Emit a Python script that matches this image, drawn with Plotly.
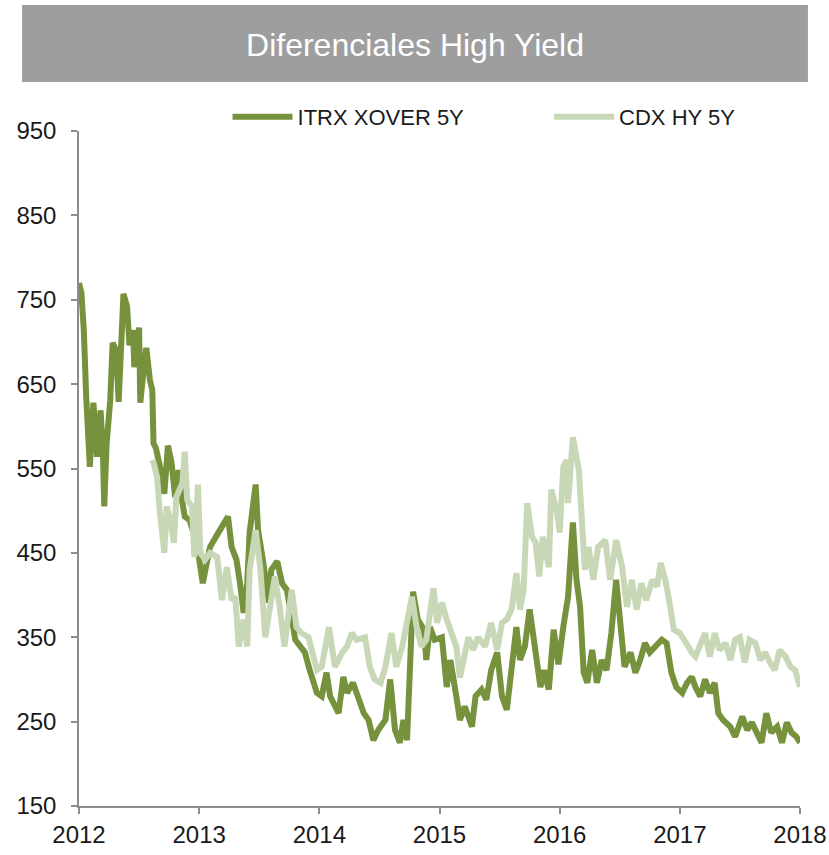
import plotly.graph_objects as go

# Axis labels
year_ticks = [2012, 2013, 2014, 2015, 2016, 2017, 2018]
year_labels = ["2012", "2013", "2014", "2015", "2016", "2017", "2018"]
spread_ticks = [150, 250, 350, 450, 550, 650, 750, 850, 950]

# iTraxx Crossover 5Y spread (bp), time in decimal years
xover_t = [
    2012.00, 2012.02, 2012.04, 2012.05, 2012.06, 2012.09, 2012.12, 2012.15, 2012.18, 2012.20,
    2012.21, 2012.23, 2012.26, 2012.28, 2012.31, 2012.33, 2012.35, 2012.37, 2012.40, 2012.42,
    2012.45, 2012.46, 2012.50, 2012.51, 2012.54, 2012.56, 2012.59, 2012.61, 2012.62, 2012.64,
    2012.67, 2012.71, 2012.74, 2012.77, 2012.80, 2012.83, 2012.86, 2012.88, 2012.92, 2012.98,
    2013.03, 2013.09, 2013.16, 2013.24, 2013.27, 2013.31, 2013.34, 2013.37, 2013.40, 2013.42,
    2013.47, 2013.49, 2013.53, 2013.58, 2013.60, 2013.65, 2013.69, 2013.73, 2013.80, 2013.88,
    2013.92, 2013.98, 2014.02, 2014.06, 2014.09, 2014.16, 2014.20, 2014.23, 2014.28, 2014.32,
    2014.37, 2014.41, 2014.45, 2014.49, 2014.55, 2014.59, 2014.63, 2014.67, 2014.70, 2014.73,
    2014.76, 2014.78, 2014.82, 2014.87, 2014.89, 2014.92, 2014.96, 2015.02, 2015.06, 2015.09,
    2015.14, 2015.17, 2015.21, 2015.27, 2015.30, 2015.35, 2015.39, 2015.43, 2015.48, 2015.52,
    2015.56, 2015.60, 2015.64, 2015.67, 2015.71, 2015.75, 2015.80, 2015.84, 2015.87, 2015.91,
    2015.95, 2015.99, 2016.03, 2016.07, 2016.11, 2016.14, 2016.17, 2016.20, 2016.23, 2016.27,
    2016.31, 2016.35, 2016.39, 2016.43, 2016.47, 2016.50, 2016.54, 2016.59, 2016.63, 2016.67,
    2016.71, 2016.75, 2016.79, 2016.85, 2016.89, 2016.93, 2016.97, 2017.02, 2017.06, 2017.10,
    2017.13, 2017.17, 2017.21, 2017.25, 2017.29, 2017.32, 2017.36, 2017.42, 2017.46, 2017.52,
    2017.56, 2017.60, 2017.64, 2017.68, 2017.72, 2017.76, 2017.81, 2017.85, 2017.89, 2017.93,
    2017.97, 2018.00,
]
xover = [
    770, 758, 714, 651, 635, 552, 628, 564, 619, 564,
    505, 580, 631, 699, 690, 629, 682, 757, 742, 696,
    714, 670, 717, 628, 670, 693, 655, 643, 580, 574,
    555, 520, 577, 557, 516, 548, 510, 493, 489, 462,
    414, 457, 474, 493, 457, 442, 414, 379, 414, 474,
    531, 477, 442, 391, 430, 440, 414, 406, 347, 332,
    311, 284, 280, 308, 280, 260, 303, 284, 296, 280,
    260, 252, 228, 240, 252, 300, 240, 225, 252, 228,
    323, 404, 371, 359, 323, 362, 347, 350, 291, 323,
    280, 252, 268, 244, 280, 288, 276, 311, 332, 280,
    264, 311, 362, 323, 339, 383, 327, 291, 311, 288,
    359, 318, 362, 398, 486, 418, 386, 308, 296, 335,
    296, 323, 311, 355, 418, 371, 315, 332, 308, 323,
    343, 332, 339, 347, 343, 308, 291, 284, 296, 303,
    291, 280, 300, 284, 296, 260, 252, 244, 232, 256,
    240, 249, 237, 225, 260, 237, 244, 225, 249, 237,
    232, 225,
]

# CDX High Yield 5Y spread (bp), time in decimal years
cdx_t = [
    2012.61, 2012.62, 2012.65, 2012.67, 2012.71, 2012.73, 2012.76, 2012.79, 2012.81, 2012.86,
    2012.88, 2012.90, 2012.94, 2012.96, 2012.99, 2013.01, 2013.05, 2013.09, 2013.15, 2013.19,
    2013.23, 2013.27, 2013.30, 2013.33, 2013.37, 2013.40, 2013.42, 2013.47, 2013.51, 2013.55,
    2013.59, 2013.63, 2013.67, 2013.71, 2013.74, 2013.77, 2013.81, 2013.85, 2013.91, 2013.98,
    2014.02, 2014.08, 2014.13, 2014.19, 2014.23, 2014.27, 2014.31, 2014.38, 2014.42, 2014.46,
    2014.51, 2014.55, 2014.60, 2014.64, 2014.69, 2014.73, 2014.77, 2014.81, 2014.85, 2014.89,
    2014.95, 2014.98, 2015.02, 2015.06, 2015.10, 2015.14, 2015.17, 2015.20, 2015.24, 2015.28,
    2015.32, 2015.38, 2015.43, 2015.48, 2015.52, 2015.56, 2015.60, 2015.64, 2015.67, 2015.70,
    2015.73, 2015.77, 2015.80, 2015.83, 2015.86, 2015.91, 2015.93, 2015.98, 2016.00, 2016.03,
    2016.06, 2016.07, 2016.11, 2016.16, 2016.18, 2016.21, 2016.24, 2016.28, 2016.32, 2016.38,
    2016.42, 2016.47, 2016.52, 2016.56, 2016.60, 2016.64, 2016.68, 2016.72, 2016.77, 2016.81,
    2016.84, 2016.88, 2016.92, 2016.95, 2017.00, 2017.06, 2017.10, 2017.13, 2017.17, 2017.21,
    2017.25, 2017.29, 2017.33, 2017.38, 2017.42, 2017.46, 2017.50, 2017.54, 2017.58, 2017.63,
    2017.67, 2017.71, 2017.75, 2017.79, 2017.83, 2017.88, 2017.92, 2017.96, 2018.00,
]
cdx = [
    560, 557, 540, 502, 450, 505, 489, 462, 516, 533,
    570, 513, 505, 445, 531, 450, 442, 450, 445, 394,
    433, 394, 398, 339, 371, 339, 430, 477, 430, 350,
    386, 422, 386, 339, 374, 406, 362, 355, 350, 311,
    315, 362, 315, 332, 339, 355, 347, 350, 315, 300,
    296, 315, 355, 315, 339, 367, 398, 362, 339, 347,
    408, 367, 391, 371, 355, 339, 302, 327, 350, 335,
    350, 339, 367, 335, 367, 371, 383, 426, 383, 406,
    509, 469, 462, 422, 469, 433, 525, 497, 474, 552,
    560, 509, 587, 548, 489, 430, 457, 418, 457, 465,
    418, 465, 433, 386, 418, 383, 414, 394, 418, 410,
    438, 418, 386, 359, 355, 339, 332, 327, 339, 355,
    327, 355, 335, 343, 323, 347, 350, 320, 347, 343,
    323, 332, 320, 311, 335, 327, 315, 311, 291,
]

DARK = "#77923C"
LIGHT = "#C8D8B6"
AXIS = "#8C8C8C"
INK = "#1a1a1a"
TEXT_FONT = "Liberation Sans, Arial, sans-serif"

fig = go.Figure()
fig.add_trace(go.Scatter(
    x=xover_t, y=xover, mode="lines", name="ITRX XOVER 5Y",
    line=dict(color=DARK, width=6), legend="legend", showlegend=True,
))
fig.add_trace(go.Scatter(
    x=cdx_t, y=cdx, mode="lines", name="CDX HY 5Y",
    line=dict(color=LIGHT, width=6), legend="legend2", showlegend=True,
))

# grey title band
fig.add_shape(
    type="rect", xref="paper", yref="paper",
    x0=-0.079, x1=1.011, y0=1.0726, y1=1.1867,
    fillcolor="#9E9E9E", line=dict(width=0), layer="below",
)

legend_style = dict(
    orientation="h", xanchor="left", y=1.0207, yanchor="middle",
    font=dict(family=TEXT_FONT, size=22, color=INK),
    itemwidth=60, bgcolor="rgba(0,0,0,0)", visible=True,
)

axis_style = dict(
    showgrid=False, zeroline=False, automargin=False,
    showline=True, linecolor=AXIS, linewidth=1.5,
    ticks="outside", ticklen=6, tickcolor=AXIS, tickwidth=1.5,
    tickfont=dict(family=TEXT_FONT, size=24, color=INK),
)

fig.update_layout(
    width=829, height=855,
    margin=dict(l=79, r=29, t=131, b=49, autoexpand=False),
    paper_bgcolor="white", plot_bgcolor="white",
    showlegend=True,
    title=dict(
        text="Diferenciales High Yield",
        x=415 / 829, xanchor="center",
        y=1 - 45 / 855, yanchor="middle",
        font=dict(family=TEXT_FONT, size=32, color="white"),
    ),
    legend=dict(x=0.206, **legend_style),
    legend2=dict(x=0.652, **legend_style),
    xaxis=dict(range=[2012, 2018], tickvals=year_ticks, ticktext=year_labels, **axis_style),
    yaxis=dict(range=[150, 950], tickvals=spread_ticks, ticklabelstandoff=10, **axis_style),
)

fig.write_html("out.html")
